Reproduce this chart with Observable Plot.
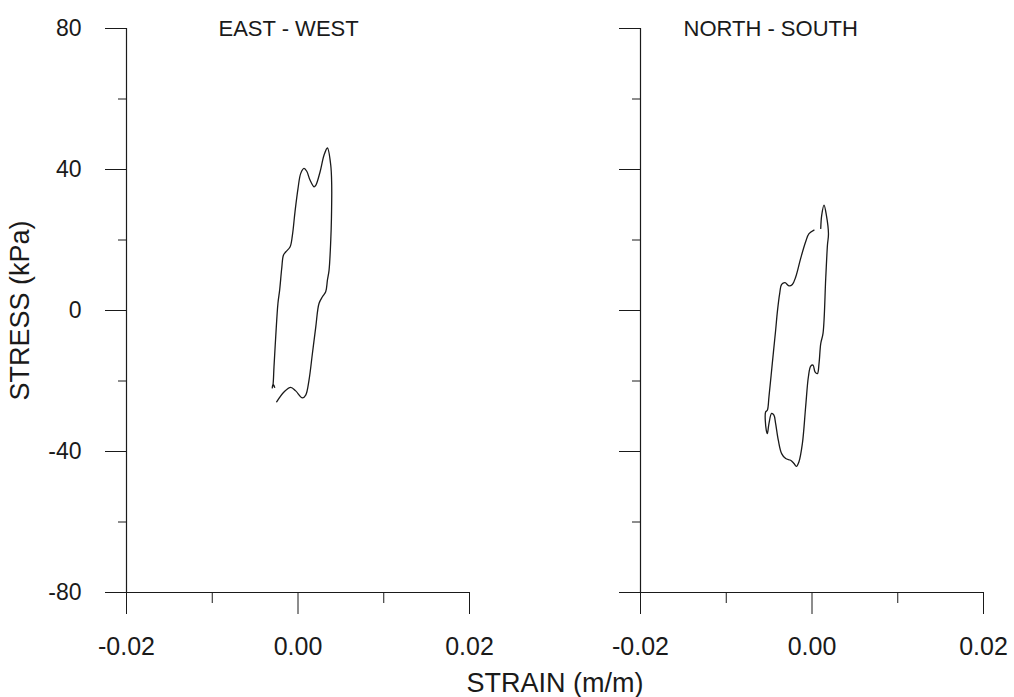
<!DOCTYPE html>
<html>
<head>
<meta charset="utf-8">
<script src="https://cdn.jsdelivr.net/npm/d3@7"></script>
<script src="https://cdn.jsdelivr.net/npm/@observablehq/plot@0.6"></script>
<style>
  html, body { margin: 0; padding: 0; background: #fff; }
  #chart svg { display: block; }
</style>
</head>
<body>
<div id="chart"></div>
<script>
// Panels: shear stress–strain loops in two horizontal directions
const panels = ["EAST - WEST", "NORTH - SOUTH"];

// East–west loop (strain in m/m, stress in kPa)
const ewStrain = [-0.00249, -0.00163, -0.00085, -0.00027, 0.00051, 0.00090, 0.00128, 0.00168,
  0.00207, 0.00245, 0.00285, 0.00323, 0.00343, 0.00362, 0.00382, 0.00390, 0.00393, 0.00382,
  0.00343, 0.00304, 0.00257, 0.00207, 0.00187, 0.00140, 0.00102, 0.00070, 0.00032, 0.00000,
  -0.00035, -0.00065, -0.00093, -0.00144, -0.00170, -0.00190, -0.00214, -0.00234, -0.00260,
  -0.00280, -0.00292, -0.00301, -0.00290, -0.00272];
const ewStress = [-25.9, -23.1, -21.8, -22.8, -24.8, -24.0, -19.8, -12.2,
  -4.7, 2.0, 3.9, 5.3, 8.6, 11.4, 19.9, 26.2, 35.6, 41.2,
  46.1, 44.1, 39.3, 35.5, 35.1, 37.0, 39.5, 40.3, 38.9, 34.6,
  28.0, 21.4, 18.0, 16.6, 15.7, 11.9, 5.8, 2.0, -7.5,
  -16.0, -21.2, -22.0, -20.9, -21.8];

// North–south loop
const nsStrain = [0.00102, 0.00113, 0.00140, 0.00168, 0.00192, 0.00180, 0.00160, 0.00129,
  0.00102, 0.00082, 0.00063, 0.00035, 0.00012, -0.00015, -0.00042, -0.00074, -0.00112,
  -0.00152, -0.00182, -0.00210, -0.00249, -0.00307, -0.00354, -0.00393, -0.00424, -0.00444,
  -0.00471, -0.00502, -0.00521, -0.00533, -0.00541, -0.00521, -0.00502, -0.00463, -0.00424,
  -0.00404, -0.00377, -0.00354, -0.00315, -0.00269, -0.00229, -0.00190, -0.00132, -0.00074,
  -0.00035, 0.00023];
const nsStress = [23.3, 27.0, 29.9, 27.0, 21.8, 18.5, 9.1, -6.4,
  -9.4, -15.0, -17.9, -17.4, -15.5, -15.8, -18.8, -27.3, -37.7,
  -42.9, -44.2, -43.4, -42.5, -42.0, -40.6, -36.8, -32.1, -29.7,
  -29.2, -32.1, -34.9, -34.0, -28.8, -28.3, -24.5, -15.0, -5.6,
  -0.4, 4.8, 7.4, 7.9, 7.0, 7.4, 9.5, 14.8, 19.5,
  21.8, 22.8];

// Axis ticks
const stressTicks = [80, 40, 0, -40, -80];
const stressMinorTicks = [60, 20, -20, -60];
const strainTicks = [-0.02, 0, 0.02];
const strainMinorTicks = [-0.01, 0.01];

const rows = [
  ...ewStrain.map((s, i) => ({panel: panels[0], strain: s, stress: ewStress[i]})),
  ...nsStrain.map((s, i) => ({panel: panels[1], strain: s, stress: nsStress[i]}))
];

const ink = "#1a1a1a";
const font = "'Liberation Sans', Arial, Helvetica, sans-serif";

const chart = Plot.plot({
  width: 1014,
  height: 697,
  marginLeft: 126,
  marginRight: 31,
  marginTop: 28,
  marginBottom: 105,
  style: {fontFamily: font, fontSize: "22px", background: "#fff", color: ink},
  fx: {domain: panels, paddingInner: 0.333, paddingOuter: 0, axis: null, label: null},
  x: {domain: [-0.02, 0.02]},
  y: {domain: [-80, 80]},
  marks: [
    // frame lines of each panel
    Plot.ruleX([-0.02], {y1: -80, y2: 80, stroke: ink, strokeWidth: 1.2}),
    Plot.ruleY([-80], {x1: -0.02, x2: 0.02, stroke: ink, strokeWidth: 1.2}),
    // stress axis: labelled on the left panel, ticks on both
    Plot.axisY(stressTicks, {
      tickSize: 21, tickPadding: 24, tickFormat: d => String(d),
      label: null, stroke: ink, fontSize: 23, facetAnchor: "left"
    }),
    Plot.axisY(stressTicks, {tickSize: 21, text: null, label: null, stroke: ink, facetAnchor: null}),
    Plot.axisY(stressMinorTicks, {tickSize: 8, text: null, label: null, stroke: ink, facetAnchor: null}),
    // strain axis
    Plot.axisX(strainTicks, {
      tickSize: 22, tickPadding: 23, tickFormat: d => d.toFixed(2),
      label: null, stroke: ink, fontSize: 25
    }),
    Plot.axisX(strainMinorTicks, {tickSize: 11, text: null, label: null, stroke: ink}),
    // hysteresis loops
    Plot.line(rows, {
      x: "strain", y: "stress", fx: "panel",
      curve: "catmull-rom", stroke: ink, strokeWidth: 1.3
    }),
    // panel titles
    Plot.text([panels[0]], {
      fx: d => d, text: d => d, frameAnchor: "top-left", textAnchor: "start",
      lineAnchor: "middle", dx: 92, fontSize: 22, fill: ink,
      letterSpacing: "-1.3px"
    }),
    Plot.text([panels[1]], {
      fx: d => d, text: d => d, frameAnchor: "top-left", textAnchor: "start",
      lineAnchor: "middle", dx: 43, fontSize: 22, fill: ink
    }),
    // axis titles spanning the whole figure
    Plot.text(["STRAIN (m/m)"], {
      facet: "super", frameAnchor: "bottom", textAnchor: "middle", lineAnchor: "middle",
      dy: 91, fontSize: 27, fill: ink
    }),
    Plot.text(["STRESS (kPa)"], {
      facet: "super", frameAnchor: "left", textAnchor: "middle", lineAnchor: "middle",
      rotate: -90, dx: -106, fontSize: 27, fill: ink
    })
  ]
});

document.getElementById("chart").appendChild(chart);
</script>
</body>
</html>
